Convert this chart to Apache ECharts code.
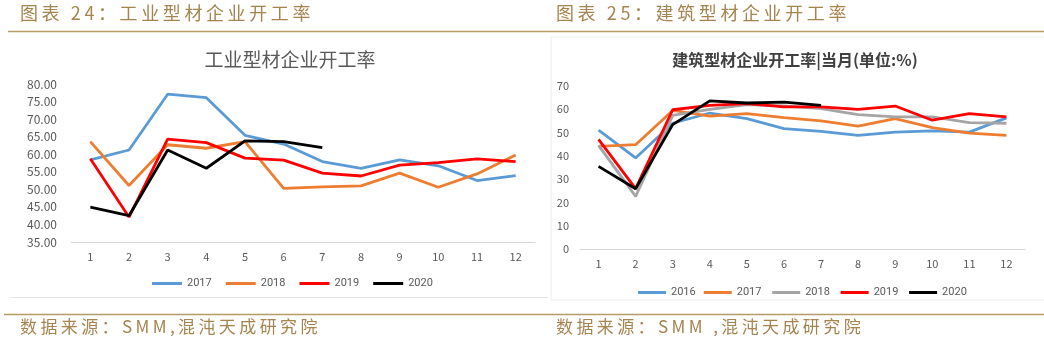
<!DOCTYPE html>
<html>
<head>
<meta charset="utf-8">
<script src="https://cdn.jsdelivr.net/npm/echarts@6/dist/echarts.min.js"></script>
<style>
  html, body { margin: 0; padding: 0; background: #fff; }
  #main { width: 1044px; height: 343px; }
</style>
</head>
<body>
<div id="main"></div>
<script>
// 月份
var months = ['1', '2', '3', '4', '5', '6', '7', '8', '9', '10', '11', '12'];

// 图表24 工业型材企业开工率
var ind2017 = [58.4, 61.2, 77.1, 76.1, 65.4, 62.9, 57.9, 56.0, 58.4, 56.7, 52.5, 53.9];
var ind2018 = [63.6, 51.1, 62.7, 61.7, 63.6, 50.3, 50.7, 51.0, 54.6, 50.6, 54.4, 59.8];
var ind2019 = [58.7, 42.1, 64.3, 63.3, 58.9, 58.3, 54.6, 53.8, 56.9, 57.6, 58.7, 57.9];
var ind2020 = [44.9, 42.5, 61.2, 56.0, 63.8, 63.6, 61.9];

// 图表25 建筑型材企业开工率
var bld2016 = [51.1, 39.1, 54.0, 58.4, 56.0, 51.7, 50.5, 48.8, 50.2, 50.7, 50.2, 56.3];
var bld2017 = [44.1, 44.8, 59.5, 57.1, 58.1, 56.4, 55.0, 52.8, 56.0, 52.1, 49.8, 48.8];
var bld2018 = [44.5, 22.6, 57.4, 60.0, 62.0, 61.5, 60.3, 57.7, 56.7, 56.7, 54.3, 54.0];
var bld2019 = [47.1, 25.9, 59.8, 61.7, 62.4, 61.0, 61.0, 60.0, 61.4, 55.3, 58.1, 56.7];
var bld2020 = [35.5, 25.9, 53.4, 63.6, 62.7, 63.1, 61.7];

var gold = '#a5844e';
var txt = '#595959';
var cjk = '"Noto Sans CJK SC", sans-serif';

// 字间距：字符之间插入细空格
function spaced(s) {
    return s.split('').join('\u2009');
}

function mkLine(name, data, color, idx) {
    return {
        name: name,
        type: 'line',
        data: data,
        xAxisIndex: idx,
        yAxisIndex: idx,
        symbol: 'none',
        smooth: false,
        lineStyle: {color: color, width: 2.8},
        itemStyle: {color: color}
    };
}

var chart = echarts.init(document.getElementById('main'));

var option = {
    animation: false,
    textStyle: {fontFamily: cjk},
    graphic: [
        {type: 'text', left: 20, top: 4, style: {text: spaced('图表 24：工业型材企业开工率'), fill: gold, font: '18px ' + cjk}},
        {type: 'text', left: 556, top: 4, style: {text: spaced('图表 25：建筑型材企业开工率'), fill: gold, font: '18px ' + cjk}},
        {type: 'line', shape: {x1: 8, y1: 31.5, x2: 1044, y2: 31.5}, style: {stroke: '#b59a6a', lineWidth: 1.5}},
        {type: 'rect', shape: {x: 551, y: 37, width: 500, height: 263}, style: {fill: 'none', stroke: '#ececec', lineWidth: 1}},
        {type: 'line', shape: {x1: 10, y1: 297.5, x2: 548, y2: 297.5}, style: {stroke: '#e6e6e6', lineWidth: 1}},
        {type: 'line', shape: {x1: 4, y1: 314.5, x2: 1044, y2: 314.5}, style: {stroke: '#b59a6a', lineWidth: 1.5}},
        {type: 'text', left: 20, top: 318, style: {text: spaced('数据来源：SMM,混沌天成研究院'), fill: gold, font: '17px ' + cjk}},
        {type: 'text', left: 556, top: 318, style: {text: spaced('数据来源：SMM ,混沌天成研究院'), fill: gold, font: '17px ' + cjk}}
    ],
    title: [
        {text: '工业型材企业开工率', left: 285, top: 45, textAlign: 'center',
            textStyle: {color: txt, fontSize: 19, fontWeight: 'normal', fontFamily: cjk}},
        {text: '建筑型材企业开工率|当月(单位:%)', left: 790, top: 47, textAlign: 'center',
            textStyle: {color: '#404040', fontSize: 16, fontWeight: 'bold', fontFamily: cjk}}
    ],
    legend: [
        {data: ['2017', '2018', '2019', '2020'], left: 147, top: 273, itemWidth: 30, itemHeight: 3, itemGap: 14,
            icon: 'rect', textStyle: {color: txt, fontSize: 11, fontFamily: 'Roboto'}},
        {data: ['2016', '2017 ', '2018 ', '2019 ', '2020 '], left: 633, top: 282, itemWidth: 28, itemHeight: 3, itemGap: 8,
            icon: 'rect', textStyle: {color: txt, fontSize: 11, fontFamily: 'Roboto'}}
    ],
    grid: [
        {left: 71, right: 509, top: 84, bottom: 101},
        {left: 580, right: 19, top: 86, bottom: 94}
    ],
    xAxis: [
        {type: 'category', gridIndex: 0, data: months, boundaryGap: true,
            axisLine: {lineStyle: {color: '#d9d9d9'}}, axisTick: {show: false},
            axisLabel: {color: txt, fontSize: 11, margin: 9}},
        {type: 'category', gridIndex: 1, data: months, boundaryGap: true,
            axisLine: {lineStyle: {color: '#d9d9d9'}}, axisTick: {show: false},
            axisLabel: {color: txt, fontSize: 11, margin: 9}}
    ],
    yAxis: [
        {type: 'value', gridIndex: 0, min: 35, max: 80, interval: 5,
            axisLine: {show: false}, axisTick: {show: false}, splitLine: {show: false},
            axisLabel: {color: txt, fontSize: 12, margin: 14, formatter: function (v) { return v.toFixed(2); }}},
        {type: 'value', gridIndex: 1, min: 0, max: 70, interval: 10,
            axisLine: {show: false}, axisTick: {show: false}, splitLine: {show: false},
            axisLabel: {color: txt, fontSize: 11, margin: 11}}
    ],
    series: [
        mkLine('2017', ind2017, '#5b9bd5', 0),
        mkLine('2018', ind2018, '#ed7d31', 0),
        mkLine('2019', ind2019, '#ff0000', 0),
        mkLine('2020', ind2020, '#000000', 0),
        mkLine('2016', bld2016, '#5b9bd5', 1),
        mkLine('2017 ', bld2017, '#ed7d31', 1),
        mkLine('2018 ', bld2018, '#a5a5a5', 1),
        mkLine('2019 ', bld2019, '#ff0000', 1),
        mkLine('2020 ', bld2020, '#000000', 1)
    ]
};

chart.setOption(option);
</script>
</body>
</html>
